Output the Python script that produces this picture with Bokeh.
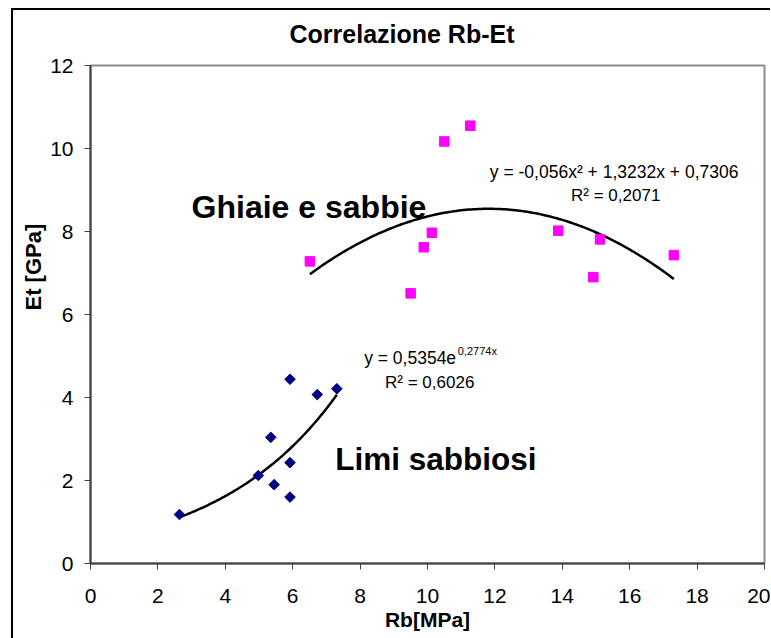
import numpy as np
from bokeh.plotting import figure
from bokeh.models import Label, Range1d, FixedTicker, Title
from bokeh.embed import file_html
from bokeh.resources import INLINE

# Data
limi_rb = [2.64, 4.98, 5.35, 5.45, 5.92, 5.92, 5.92, 6.73, 7.31]
limi_et = [1.18, 2.12, 3.04, 1.90, 4.44, 2.43, 1.60, 4.07, 4.21]

ghiaie_rb = [6.51, 9.50, 9.89, 10.13, 10.50, 11.27, 13.88, 14.92, 15.12, 17.31]
ghiaie_et = [7.28, 6.51, 7.62, 7.97, 10.17, 10.55, 8.02, 6.90, 7.81, 7.43]

# Trendline coefficients as printed on the chart
exp_a, exp_b = 0.5354, 0.2774
quad_a, quad_b, quad_c = -0.056, 1.3232, 0.7306

x_ticks = [0, 2, 4, 6, 8, 10, 12, 14, 16, 18, 20]
y_ticks = [0, 2, 4, 6, 8, 10, 12]

FONT = "Liberation Sans"

p = figure(
    frame_width=674, frame_height=498,
    min_border_left=79, min_border_top=65, min_border_right=6, min_border_bottom=75,
    x_range=Range1d(0, 20), y_range=Range1d(0, 12),
    output_backend="svg", toolbar_location=None,
)
p.border_fill_color = None
p.background_fill_color = "white"
p.styles = {
    "margin-left": "11px",
    "background": ("linear-gradient(black, black) 0 8px / 100% 2px no-repeat, "
                   "linear-gradient(black, black) 0 8px / 2px 100% no-repeat, white"),
}

p.title.text = "Correlazione Rb-Et"
p.title.align = "left"
p.title.offset = 199
p.title.text_font = FONT
p.title.text_font_size = "25px"
p.title.text_font_style = "bold"
p.title.text_color = "black"
p.title.standoff = 35

p.add_layout(Title(text="Et [GPa]", align="left", offset=253, text_font=FONT,
                   text_font_size="22px", text_font_style="bold", text_color="black",
                   standoff=4), "left")

p.xgrid.visible = False
p.ygrid.visible = False
p.outline_line_color = "#8c8c8c"
p.outline_line_width = 2

for ax in (p.xaxis[0], p.yaxis[0]):
    ax.axis_line_color = "#404040"
    ax.axis_line_width = 2
    ax.major_tick_line_color = "#404040"
    ax.major_tick_line_width = 1
    ax.major_tick_in = 0
    ax.major_tick_out = 6
    ax.minor_tick_line_color = None
    ax.major_label_text_font = FONT
    ax.major_label_text_font_size = "21px"
    ax.major_label_text_color = "black"

p.xaxis.ticker = FixedTicker(ticks=x_ticks)
p.yaxis.ticker = FixedTicker(ticks=y_ticks)
p.xaxis.major_label_standoff = 19
p.yaxis.major_label_standoff = 11
p.xaxis.axis_label = "Rb[MPa]"
p.xaxis.axis_label_text_font = FONT
p.xaxis.axis_label_text_font_size = "21px"
p.xaxis.axis_label_text_font_style = "bold"
p.xaxis.axis_label_text_color = "black"
p.xaxis.axis_label_standoff = 2

# Trendlines
xe = np.linspace(min(limi_rb), max(limi_rb), 100)
p.line(xe, exp_a * np.exp(exp_b * xe), line_color="black", line_width=2.5)
xq = np.linspace(min(ghiaie_rb), max(ghiaie_rb), 150)
p.line(xq, quad_a * xq**2 + quad_b * xq + quad_c, line_color="black", line_width=2.5)

# Points
p.scatter(limi_rb, limi_et, marker="square", angle=np.pi / 4, size=7.5,
          fill_color="#000080", line_color="#000080")
p.scatter(ghiaie_rb, ghiaie_et, marker="square", size=9.5,
          fill_color="#ff00ff", line_color="#ff00ff")

def lab(x, y, text, size, bold=False, align="left", baseline="alphabetic"):
    p.add_layout(Label(x=x, y=y, text=text, text_font=FONT, text_font_size=size,
                       text_font_style="bold" if bold else "normal",
                       text_align=align, text_baseline=baseline,
                       text_color="black"))

lab(3.0, 8.58, "Ghiaie e sabbie", "32px", bold=True)
lab(7.26, 2.51, "Limi sabbiosi", "31.5px", bold=True)

lab(11.85, 9.43, "y = -0,056x² + 1,3232x + 0,7306", "17.5px")
lab(14.26, 8.87, "R² = 0,2071", "17px")
lab(8.12, 4.94, "y = 0,5354e", "17.5px")
lab(10.9, 5.11, "0,2774x", "11px")
lab(8.74, 4.36, "R² = 0,6026", "17px")

open("out.html", "w").write(file_html(p, INLINE))
